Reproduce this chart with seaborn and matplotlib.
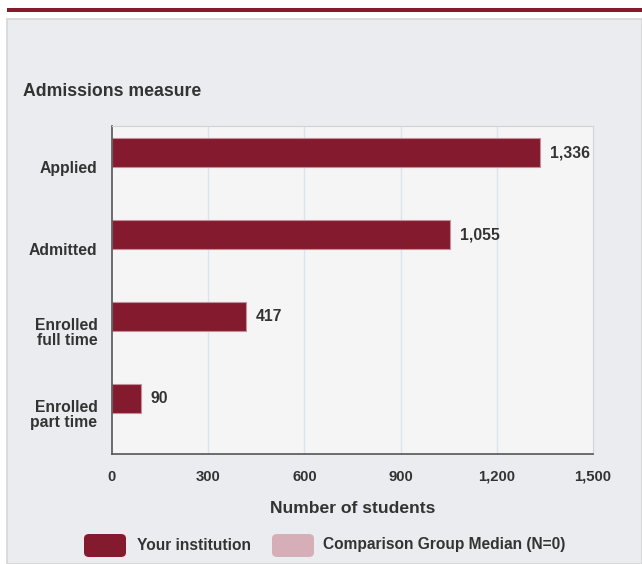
import numpy as np
import pandas as pd
import seaborn as sns
import matplotlib.pyplot as plt
from matplotlib.patches import Rectangle, FancyBboxPatch
from matplotlib.ticker import FuncFormatter

# Admissions counts (comparison group has N=0, so no values)
measures = ["Applied", "Admitted", "Enrolled\nfull time", "Enrolled\npart time"]
institution = [1336, 1055, 417, 90]
comparison = [np.nan, np.nan, np.nan, np.nan]
groups = ["Your institution", "Comparison Group Median (N=0)"]
colors = ["#841a2e", "#d6aeb8"]
xticks = [0, 300, 600, 900, 1200, 1500]

df = pd.DataFrame({
    "measure": measures * 2,
    "students": institution + comparison,
    "group": [groups[0]] * 4 + [groups[1]] * 4,
})

sns.set_style("white")
plt.rcParams["font.family"] = ["Liberation Sans", "DejaVu Sans"]
plt.rcParams["font.weight"] = "bold"
txt = "#333333"

W, H = 642, 564
fig = plt.figure(figsize=(W / 100, H / 100), dpi=100)
fig.patch.set_facecolor("white")

# background panel and top rule
fig.add_artist(Rectangle((7 / W, 0), (W - 7) / W, 545 / H, transform=fig.transFigure,
                         facecolor="#ebecf0", edgecolor="#d6d6d6", lw=1.2, zorder=0))
fig.add_artist(Rectangle((7 / W, 1 - 12 / H), (W - 7) / W, 4 / H, transform=fig.transFigure,
                         facecolor="#891a2e", edgecolor="none", zorder=1))

ax = fig.add_axes([112 / W, 1 - 454 / H, (593 - 112) / W, (454 - 126) / H])
ax.set_facecolor("#f5f5f5")

sns.barplot(data=df, y="measure", x="students", hue="group", hue_order=groups,
            order=measures, palette=colors, saturation=1, width=0.7, orient="h",
            edgecolor="#c48e9a", linewidth=0.8, legend=False, ax=ax)

for c in ax.containers[:1]:
    ax.bar_label(c, labels=[f"{v:,.0f}" for v in institution], padding=7,
                 fontsize=11.3, fontweight="bold", color=txt)

ax.set_xlim(0, 1500)
ax.set_ylim(3.5, -0.5)
ax.set_xticks(xticks)
ax.xaxis.set_major_formatter(FuncFormatter(lambda v, p: f"{v:,.0f}"))
ax.tick_params(axis="x", length=0, pad=11.5, labelsize=10.7, labelcolor=txt)
ax.set_yticks(range(4))
ax.set_yticklabels(measures, fontsize=11.3, fontweight="bold", color=txt, linespacing=1.05)
ax.set_yticks([-0.5, 0.5, 1.5, 2.5, 3.5], minor=True)
ax.tick_params(axis="y", which="major", length=0, pad=10.5)
ax.tick_params(axis="y", which="minor", length=9, width=1, color="#555555")
ax.grid(False)
for v in xticks[1:-1]:
    ax.axvline(v, color="#d8e4ef", lw=1, zorder=0)

ax.set_xlabel("Number of students", fontsize=12.6, fontweight="bold", color=txt, labelpad=12)
ax.set_ylabel("")
for s in ["top", "right"]:
    ax.spines[s].set_color("#d2d2d2")
for s in ["left", "bottom"]:
    ax.spines[s].set_color("#555555")
    ax.spines[s].set_linewidth(1.2)

fig.text(23 / W, 1 - 92 / H, "Admissions measure", fontsize=12.7, fontweight="bold",
         color=txt, va="center", ha="left")

# legend drawn as rounded swatches
for x0, lab, col, tx in [(84, groups[0], colors[0], 137), (272, groups[1], colors[1], 323)]:
    fig.add_artist(FancyBboxPatch((x0 / W, 1 - 557 / H), 42 / W, 23 / H,
                                  boxstyle="round,pad=0,rounding_size=0.008",
                                  transform=fig.transFigure, facecolor=col, edgecolor="none"))
    fig.text(tx / W, 1 - 545 / H, lab, fontsize=11.2, fontweight="bold", color=txt,
             va="center", ha="left")

fig.savefig("out.png", dpi=100)
